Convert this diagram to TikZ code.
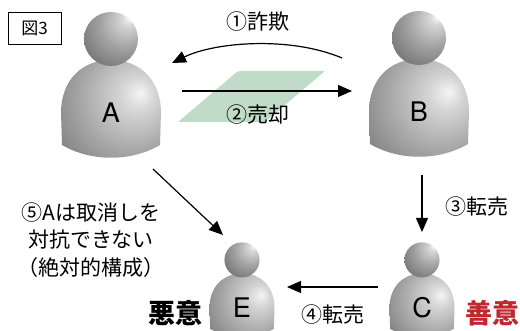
\documentclass[tikz,border=0pt]{standalone}
\usepackage{fontspec}
\setmainfont{Noto Sans CJK JP}
\newfontfamily\latinsans{TeX Gyre Heros}
\usetikzlibrary{arrows.meta}

\definecolor{sheetgreen}{RGB}{192,220,200}
\definecolor{goodred}{RGB}{193,39,45}

% grey ball look, light spot up and to the right
\pgfdeclareradialshading{figbody}{\pgfpoint{15bp}{9bp}}{%
  color(0bp)=(black!4); color(8bp)=(black!16); color(25bp)=(black!34);
  color(45bp)=(black!54); color(60bp)=(black!66); color(80bp)=(black!74)}
\pgfdeclareradialshading{fighead}{\pgfpoint{17bp}{20bp}}{%
  color(0bp)=(black!2); color(6bp)=(black!16); color(22bp)=(black!36);
  color(42bp)=(black!56); color(58bp)=(black!70); color(80bp)=(black!74)}

\tikzset{
  person/.pic={
    % body
    \shade[shading=figbody] (-49,32) -- (-50,0)
      .. controls (-50,-32) and (-30,-53) .. (0,-53)
      .. controls (30,-53) and (50,-32) .. (50,0) -- (49,32)
      .. controls (20,49) and (-20,49) .. (-49,32) -- cycle;
    % head
    \shade[shading=fighead] (0,-74) circle (27);
  },
  letter/.style={font=\latinsans\fontsize{27}{27}\selectfont},
  lbl/.style={font=\fontsize{21}{27.5}\selectfont, align=center},
  link/.style={line width=1.2pt, -{Triangle[length=14pt,width=12pt]}}
}

\begin{document}
\begin{tikzpicture}[x=1pt,y=-1pt]
    \useasboundingbox (0,0) rectangle (520,331);

    % figure tag
    \node[draw, line width=0.8pt, minimum width=53pt, minimum height=32pt, inner sep=0pt,
          font=\fontsize{17}{17}\selectfont] (tag) at (34.5,28) {図3};

    % sheet under the sale arrow
    \fill[sheetgreen, rounded corners=2pt] (238,71) -- (325,71) -- (265,122) -- (178,122) -- cycle;

    % persons
    \pic at (111,113) {person};
    \pic at (419,112) {person};
    \pic[scale=0.65] at (242,308) {person};
    \pic[scale=0.65] at (422,308) {person};
    \node[letter] (A) at (111,113) {A};
    \node[letter] (B) at (419,112) {B};
    \node[letter] (E) at (242,308) {E};
    \node[letter] (C) at (422,308) {C};

    % arrow ends
    \coordinate (b1) at (342,58);  \coordinate (a1) at (172,63);
    \coordinate (a2) at (182,91);  \coordinate (b2) at (352,91);
    \coordinate (b3) at (422,175); \coordinate (c3) at (422,232);
    \coordinate (c4) at (378,287); \coordinate (e4) at (287,287);
    \coordinate (a5) at (153,169); \coordinate (e5) at (223,235);

    % transfers
    \draw[link] (b1) .. controls (290,36) and (215,42) .. (a1);
    \draw[link] (a2) -- (b2);
    \draw[link] (b3) -- (c3);
    \draw[link] (c4) -- (e4);
    \draw[link] (a5) -- (e5);

    % labels
    \node[lbl] (t1) at (258,22) {①詐欺};
    \node[lbl] (t2) at (258,115) {②売却};
    \node[lbl] (t3) at (477,207) {③転売};
    \node[lbl] (t4) at (333,315) {④転売};
    \node[lbl] (t5) at (91,240) {⑤Aは取消しを\\対抗できない\\（絶対的構成）};
    \node[font=\bfseries\fontsize{27}{27}\selectfont] (bad) at (175,313) {悪意};
    \node[font=\bfseries\fontsize{27}{27}\selectfont, text=goodred] (good) at (492,313) {善意};
\end{tikzpicture}
\end{document}
